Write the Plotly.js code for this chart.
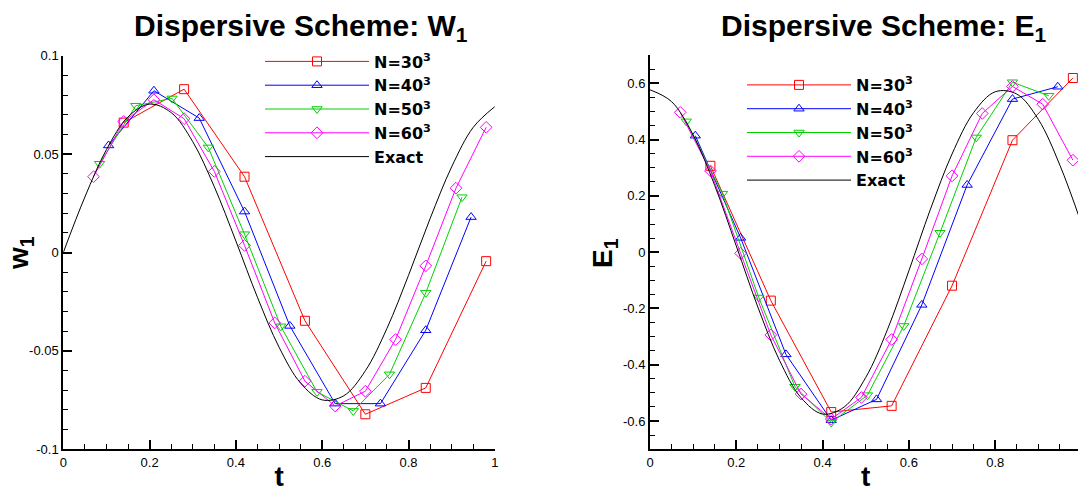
<!DOCTYPE html>
<html>
<head>
<meta charset="utf-8">
<script src="https://cdn.plot.ly/plotly-3.0.1.min.js"></script>
<style>
html,body{margin:0;padding:0;overflow:hidden;background:#fff;}
#chart{width:1100px;height:492px;}
</style>
</head>
<body>
<div id="chart"></div>
<script>
// ---- Data: left panel (W1) ----
const t30 = [0.14,0.28,0.42,0.56,0.70,0.84,0.98];
const w30 = [0.066,0.083,0.0385,-0.0347,-0.0822,-0.0688,-0.0044];
const t40 = [0.105,0.21,0.315,0.42,0.525,0.63,0.735,0.84,0.945];
const w40 = [0.0544,0.0822,0.0683,0.0208,-0.0373,-0.0768,-0.0768,-0.0395,0.018];
const t50 = [0.084,0.168,0.252,0.336,0.42,0.504,0.588,0.672,0.756,0.84,0.924];
const w50 = [0.0451,0.0746,0.0783,0.0534,0.0093,-0.0375,-0.0708,-0.0805,-0.0619,-0.0205,0.0281];
const t60 = [0.07,0.14,0.21,0.28,0.35,0.42,0.49,0.56,0.63,0.70,0.77,0.84,0.91,0.98];
const w60 = [0.0385,0.0666,0.0776,0.068,0.0412,0.0036,-0.0358,-0.0654,-0.078,-0.0705,-0.0442,-0.0068,0.0327,0.0636];
const tExact = [0,0.05,0.1,0.15,0.2,0.25,0.3,0.35,0.4,0.45,0.5,0.55,0.6,0.65,0.7,0.75,0.8,0.85,0.9,0.95,1.0];
const wExact = [0,0.0282,0.0523,0.0689,0.0754,0.0711,0.0563,0.0334,0.0058,-0.0228,-0.0481,-0.0664,-0.0749,-0.0728,-0.0601,-0.0386,-0.0116,0.0172,0.0435,0.0636,0.0741];

// ---- Data: right panel (E1) ----
const e30 = [0.307,-0.172,-0.568,-0.546,-0.119,0.398,0.619];
const e40 = [0.414,0.051,-0.363,-0.597,-0.523,-0.187,0.239,0.544,0.588];
const e50 = [0.465,0.208,-0.161,-0.478,-0.605,-0.508,-0.262,0.069,0.408,0.604,0.556];
const e60 = [0.497,0.289,-0.004,-0.294,-0.504,-0.593,-0.516,-0.31,-0.024,0.271,0.493,0.589,0.526,0.327];
const eExact = [0.577,0.535,0.416,0.237,0.022,-0.195,-0.384,-0.517,-0.575,-0.550,-0.445,-0.276,-0.066,0.153,0.349,0.496,0.570,0.562,0.472,0.309,0.101];

// ---- Labels ----
const seriesNames = ["N=30<sup>3</sup>","N=40<sup>3</sup>","N=50<sup>3</sup>","N=60<sup>3</sup>","Exact"];
const yTickValsW = [-0.1,-0.05,0,0.05,0.1];
const yTickTextW = ["-0.1","-0.05","0","0.05","0.1"];
const yTickValsE = [-0.6,-0.4,-0.2,0,0.2,0.4,0.6];
const yTickTextE = ["-0.6","-0.4","-0.2","0","0.2","0.4","0.6"];
const xTickVals = [0,0.2,0.4,0.6,0.8,1];
const xTickText = ["0","0.2","0.4","0.6","0.8","1"];

const colors = ["#ff0000","#0000ff","#00d000","#ff00ff","#000000"];
const symbols = ["square-open","triangle-up-open","triangle-down-open","diamond-open"];
const FONT = "Liberation Sans, Arial, Helvetica, sans-serif";
const LEGFONT = "DejaVu Sans, Liberation Sans, Arial, sans-serif";

function mk(x, y, i, xa, ya, leg) {
  const tr = {
    x: x, y: y, name: seriesNames[i], xaxis: xa, yaxis: ya, legend: leg,
    type: "scatter", line: {color: colors[i], width: 1}
  };
  if (i < 4) {
    tr.mode = "lines+markers";
    tr.marker = {symbol: symbols[i], size: 9, color: colors[i], line: {color: colors[i], width: 1}};
  } else {
    tr.mode = "lines";
    tr.line.shape = "spline";
  }
  return tr;
}

const data = [
  mk(t30, w30, 0, "x", "y", "legend"),
  mk(t40, w40, 1, "x", "y", "legend"),
  mk(t50, w50, 2, "x", "y", "legend"),
  mk(t60, w60, 3, "x", "y", "legend"),
  mk(tExact, wExact, 4, "x", "y", "legend"),
  mk(t30, e30, 0, "x2", "y2", "legend2"),
  mk(t40, e40, 1, "x2", "y2", "legend2"),
  mk(t50, e50, 2, "x2", "y2", "legend2"),
  mk(t60, e60, 3, "x2", "y2", "legend2"),
  mk(tExact, eExact, 4, "x2", "y2", "legend2")
];

const W = 1100, H = 492;
function px(v){ return v / W; }
function py(v){ return (H - v) / H; }

const axisCommon = {
  showline: true, linewidth: 2, linecolor: "#000", mirror: false,
  ticks: "inside", ticklen: 9, tickwidth: 2, tickcolor: "#000",
  showgrid: false, zeroline: false,
  tickfont: {family: FONT, size: 13, color: "#000"},
  tickmode: "array", fixedrange: true
};

const layout = {
  width: W, height: H,
  margin: {l: 0, r: 0, t: 0, b: 0},
  paper_bgcolor: "#fff", plot_bgcolor: "rgba(0,0,0,0)",
  font: {family: FONT, color: "#000"},
  xaxis: Object.assign({}, axisCommon, {
    domain: [px(63.3), px(494.8)], range: [0, 1], anchor: "y",
    tickvals: xTickVals, ticktext: xTickText,
    minor: {tickmode: "linear", tick0: 0, dtick: 0.05, ticks: "inside", ticklen: 5, tickwidth: 1, tickcolor: "#000"},
    title: {text: "t", font: {family: FONT, size: 28, weight: "bold"}, standoff: 4}
  }),
  yaxis: Object.assign({}, axisCommon, {
    domain: [py(449.3), py(55.7)], range: [-0.1, 0.1], anchor: "x",
    tickvals: yTickValsW, ticktext: yTickTextW,
    minor: {tickmode: "linear", tick0: 0, dtick: 0.01, ticks: "inside", ticklen: 5, tickwidth: 1, tickcolor: "#000"}
  }),
  xaxis2: Object.assign({}, axisCommon, {
    domain: [px(650), px(1081.5)], range: [0, 1], anchor: "y2",
    tickvals: xTickVals, ticktext: xTickText,
    minor: {tickmode: "linear", tick0: 0, dtick: 0.05, ticks: "inside", ticklen: 5, tickwidth: 1, tickcolor: "#000"},
    title: {text: "t", font: {family: FONT, size: 28, weight: "bold"}, standoff: 4}
  }),
  yaxis2: Object.assign({}, axisCommon, {
    domain: [py(449.2), py(55.2)], range: [-0.7, 0.7], anchor: "x2",
    tickvals: yTickValsE, ticktext: yTickTextE,
    minor: {tickmode: "linear", tick0: 0, dtick: 0.05, ticks: "inside", ticklen: 5, tickwidth: 1, tickcolor: "#000"}
  }),
  showlegend: true,
  legend: {
    x: px(260), y: py(44.5), xanchor: "left", yanchor: "top",
    bgcolor: "rgba(0,0,0,0)", borderwidth: 0, itemwidth: 104,
    font: {family: LEGFONT, size: 16, weight: "bold", color: "#000"},
    tracegroupgap: 0
  },
  legend2: {
    x: px(742), y: py(68), xanchor: "left", yanchor: "top",
    bgcolor: "rgba(0,0,0,0)", borderwidth: 0, itemwidth: 104,
    font: {family: LEGFONT, size: 16, weight: "bold", color: "#000"},
    tracegroupgap: 0
  },
  annotations: [
    {text: "Dispersive Scheme: W<sub>1</sub>", xref: "paper", yref: "paper",
     x: px(301), y: py(27), xanchor: "center", yanchor: "middle", showarrow: false,
     font: {family: FONT, size: 30, weight: "bold", color: "#000"}},
    {text: "Dispersive Scheme: E<sub>1</sub>", xref: "paper", yref: "paper",
     x: px(884), y: py(27), xanchor: "center", yanchor: "middle", showarrow: false,
     font: {family: FONT, size: 30, weight: "bold", color: "#000"}},
    {text: "w<sub>1</sub>", xref: "paper", yref: "paper", textangle: -90,
     x: px(21), y: py(253), xanchor: "center", yanchor: "middle", showarrow: false,
     font: {family: FONT, size: 28, weight: "bold", color: "#000"}},
    {text: "E<sub>1</sub>", xref: "paper", yref: "paper", textangle: -90,
     x: px(605), y: py(253), xanchor: "center", yanchor: "middle", showarrow: false,
     font: {family: FONT, size: 28, weight: "bold", color: "#000"}}
  ]
};

Plotly.newPlot("chart", data, layout, {displayModeBar: false, staticPlot: true});
</script>
</body>
</html>
